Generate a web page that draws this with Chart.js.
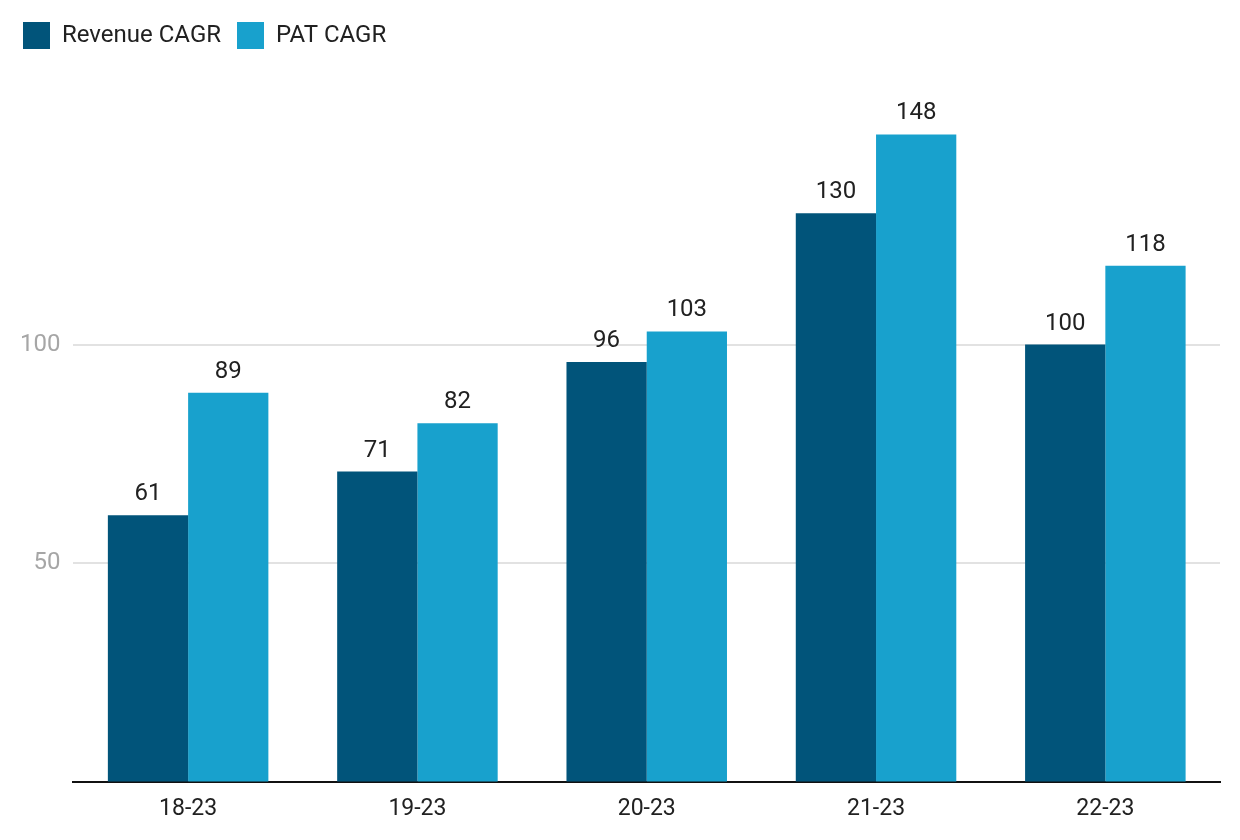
<!DOCTYPE html>
<html>
<head>
<meta charset="utf-8">
<script src="https://cdn.jsdelivr.net/npm/chart.js@4.4.0/dist/chart.umd.min.js"></script>
<style>
  html, body { margin: 0; padding: 0; background: #fff; }
  #wrap { width: 1240px; height: 840px; }
</style>
</head>
<body>
<div id="wrap"><canvas id="chart"></canvas></div>
<script>
// chart data
const periods = ['18-23', '19-23', '20-23', '21-23', '22-23'];
const revenueCagr = [61, 71, 96, 130, 100];
const patCagr = [89, 82, 103, 148, 118];
const yTicks = [0, 50, 100];

// writes the value above each bar
const barLabels = {
    id: 'barLabels',
    afterDatasetsDraw(chart) {
        const ctx = chart.ctx;
        ctx.save();
        ctx.font = '24px Roboto';
        ctx.fillStyle = '#212121';
        ctx.textAlign = 'center';
        ctx.textBaseline = 'alphabetic';
        chart.data.datasets.forEach((ds, i) => {
            chart.getDatasetMeta(i).data.forEach((bar, j) => {
                ctx.fillText(ds.data[j], bar.x, bar.y - 15);
            });
        });
        ctx.restore();
    }
};

const ctx = document.getElementById('chart').getContext('2d');
new Chart(ctx, {
    type: 'bar',
    data: {
        labels: periods,
        datasets: [
            { label: 'Revenue CAGR', data: revenueCagr, backgroundColor: '#01547A' },
            { label: 'PAT CAGR', data: patCagr, backgroundColor: '#18A1CD' }
        ]
    },
    options: {
        responsive: true,
        maintainAspectRatio: false,
        animation: false,
        layout: { padding: { left: 7, right: 20, top: 6, bottom: 12 } },
        datasets: { bar: { categoryPercentage: 0.7, barPercentage: 1.0 } },
        plugins: {
            legend: {
                align: 'start',
                labels: {
                    boxWidth: 27,
                    boxHeight: 27,
                    padding: 16,
                    color: '#212121',
                    font: { family: 'Roboto', size: 24 }
                }
            },
            tooltip: { enabled: false }
        },
        scales: {
            x: {
                grid: { display: false },
                border: { display: true, color: '#111', width: 2 },
                ticks: { color: '#212121', padding: 5, font: { family: 'Roboto', size: 23 } }
            },
            y: {
                min: 0,
                max: 149,
                afterBuildTicks(axis) { axis.ticks = yTicks.map(v => ({ value: v })); },
                grid: { color: '#e2e2e2', lineWidth: 2, drawTicks: false },
                border: { display: false },
                ticks: {
                    color: '#a6a6a6',
                    padding: 13,
                    font: { family: 'Roboto', size: 24 },
                    callback: v => (v === 0 ? '' : v)
                }
            }
        }
    },
    plugins: [barLabels, {
        id: 'legendSpace',
        beforeInit(chart) {
            const fit = chart.legend.fit;
            chart.legend.fit = function () {
                fit.call(this);
                this.height += 71;
            };
        }
    }]
});
</script>
</body>
</html>
